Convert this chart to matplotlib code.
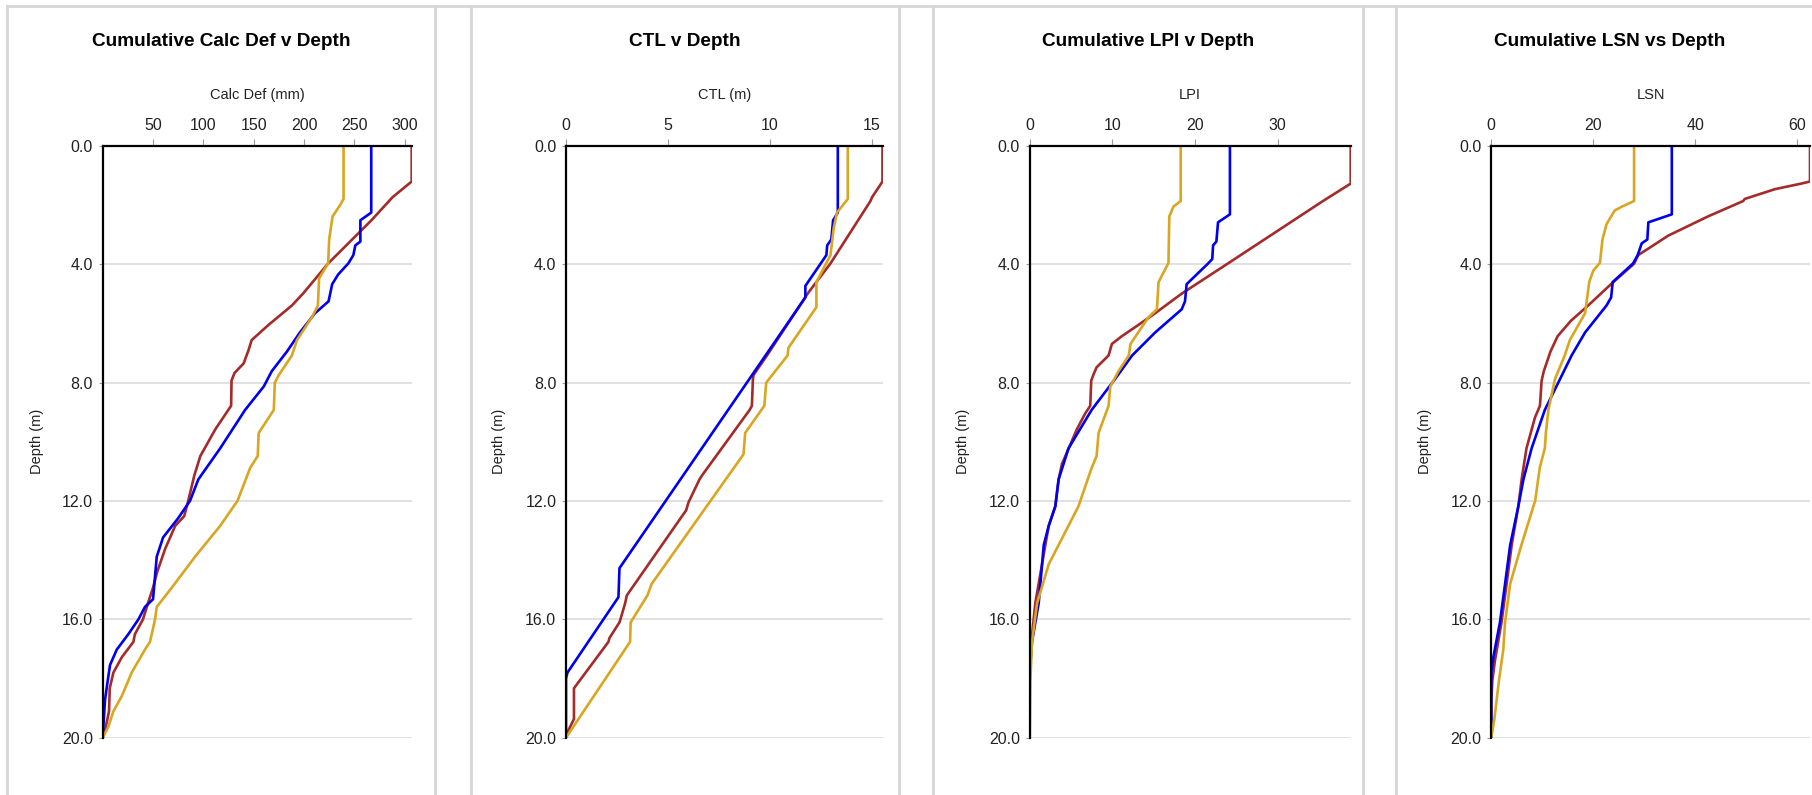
import matplotlib
matplotlib.use("Agg")
import matplotlib.pyplot as plt
from matplotlib.lines import Line2D

plt.rcParams['font.family'] = ['Liberation Sans', 'DejaVu Sans']

# ---------------- data ----------------
# Panel 1: Cumulative Calc Def (mm) v Depth (m)
calc_red_depth = [0, 1.2, 1.73, 2.51, 3.97, 4.99, 5.39, 6.04, 6.56, 6.89, 7.35, 7.67, 7.93, 8.78, 9.57, 10.48,
                  11.14, 11.99, 12.51, 12.84, 13.62, 14.41, 14.93, 15.45, 16.0, 16.5, 16.76, 17.28, 17.8, 18.33,
                  19.1, 19.76, 20.0]
calc_red_val = [307, 307, 288, 267, 224, 199, 188, 165, 148, 145, 140, 131, 128, 127.6, 112, 97,
                91, 85, 81, 72, 62, 54, 50, 45, 40, 32, 30.5, 19, 10.6, 7,
                6.3, 2.3, 0]
calc_blue_depth = [0, 2.25, 2.51, 3.23, 3.36, 3.69, 3.97, 4.34, 4.67, 5.25, 5.65, 6.3, 6.95, 7.61, 8.13, 8.92,
                   10.22, 11.27, 11.99, 12.58, 13.23, 13.88, 14.54, 15.32, 15.58, 16.0, 16.5, 17.02, 17.54,
                   18.07, 18.72, 20.0]
calc_blue_val = [266.8, 266.8, 256, 256, 251, 249, 244, 234, 228, 224.4, 211, 196, 183, 168, 160, 141.5,
                 116.7, 95, 86.8, 75, 60, 53.7, 52, 50, 42, 35.5, 25.5, 14, 7.3,
                 5, 2.3, 0]
calc_gold_depth = [0, 1.79, 1.99, 2.38, 3.16, 3.97, 4.47, 5.39, 5.78, 6.56, 7.08, 7.74, 8.0, 8.92, 9.18, 9.7,
                   10.48, 10.88, 11.99, 12.84, 13.88, 14.93, 15.58, 16.0, 16.76, 17.02, 17.8, 18.59, 19.11,
                   19.63, 20.0]
calc_gold_val = [239.3, 239.3, 236, 228.4, 225, 224, 215, 213.8, 208, 193, 188, 175, 171, 170, 165, 155,
                 154, 146.5, 134, 116.7, 91.8, 68.6, 53.7, 52, 47, 42, 28.8, 19, 10.6,
                 5.6, 0]

# Panel 2: CTL (m) v Depth (m)
ctl_red_depth = [0, 1.2, 1.73, 1.86, 3.97, 4.99, 7.08, 7.74, 7.87, 8.78, 8.92, 11.14, 11.27, 12.05, 12.31,
                 15.19, 15.45, 15.97, 16.1, 16.63, 16.76, 18.33, 19.37, 19.76, 20.0]
ctl_red_val = [15.51, 15.51, 15.0, 14.92, 12.96, 11.84, 9.85, 9.19, 9.16, 9.11, 9.0, 6.66, 6.54, 6.0, 5.89,
               2.98, 2.9, 2.68, 2.62, 2.13, 2.08, 0.39, 0.39, 0.11, 0]
ctl_blue_depth = [0, 2.25, 2.51, 3.16, 3.36, 3.69, 4.73, 5.12, 5.25, 14.27, 15.25, 17.8, 18.0, 20.0]
ctl_blue_val = [13.32, 13.32, 13.09, 13.0, 12.8, 12.76, 11.73, 11.73, 11.6, 2.62, 2.57, 0.07, 0, 0]
ctl_gold_depth = [0, 1.79, 2.25, 2.77, 3.69, 4.6, 5.45, 6.82, 7.08, 8.0, 8.78, 9.7, 10.42, 14.8, 15.19,
                  16.1, 16.76, 20.0]
ctl_gold_val = [13.81, 13.81, 13.28, 13.12, 12.96, 12.27, 12.27, 10.9, 10.86, 9.81, 9.72, 8.78, 8.7, 4.2, 3.99,
                3.17, 3.14, 0]

# Panel 3: Cumulative LPI v Depth (m)
lpi_red_depth = [0, 1.27, 1.86, 3.97, 4.99, 5.65, 6.04, 6.43, 6.69, 7.08, 7.48, 7.74, 7.93, 8.78, 9.05, 9.57,
                 10.75, 11.27, 12.18, 12.84, 14.14, 15.45, 16.76, 18.07, 20.0]
lpi_red_val = [38.86, 38.86, 35.5, 24.0, 18.4, 15.2, 13.2, 11.15, 9.95, 9.55, 8.1, 7.7, 7.45, 7.33, 6.7, 5.72,
               3.9, 3.5, 3.1, 2.3, 1.49, 0.68, 0.2, 0, 0]
lpi_blue_depth = [0, 2.31, 2.58, 3.23, 3.36, 3.82, 3.97, 4.67, 5.25, 5.52, 6.3, 7.08, 7.87, 8.92, 10.22,
                  11.27, 12.18, 12.84, 13.49, 15.45, 16.76, 17.8, 20.0]
lpi_blue_val = [24.24, 24.24, 22.8, 22.6, 22.2, 22.1, 21.6, 19.0, 18.8, 18.4, 15.2, 12.4, 10.35, 7.5, 4.7,
                3.5, 3.1, 2.3, 1.7, 1.09, 0.28, 0, 0]
lpi_gold_depth = [0, 1.86, 2.05, 2.38, 3.95, 4.6, 5.52, 5.78, 6.69, 7.08, 7.61, 8.13, 8.78, 9.7, 10.48,
                  10.88, 12.18, 14.14, 15.45, 16.76, 18.07, 20.0]
lpi_gold_val = [18.28, 18.28, 17.4, 16.9, 16.8, 15.6, 15.4, 14.4, 12.2, 12.0, 10.75, 9.75, 9.55, 8.34, 8.1,
                7.5, 5.9, 2.3, 0.9, 0.28, 0.08, 0]

# Panel 4: Cumulative LSN vs Depth (m)
lsn_red_depth = [0, 1.2, 1.27, 1.46, 1.79, 1.86, 2.38, 3.03, 3.69, 3.98, 4.65, 5.39, 5.91, 6.43, 6.95, 7.61,
                 7.93, 8.78, 9.18, 10.22, 11.27, 12.18, 13.49, 14.8, 16.1, 17.41, 18.07, 18.72, 20.0]
lsn_red_val = [62.5, 62.5, 60.8, 55.6, 49.7, 49.4, 42.5, 34.7, 28.8, 28.0, 23.6, 19.0, 15.6, 13.0, 11.6, 10.3,
               9.87, 9.54, 8.56, 6.9, 5.95, 5.3, 4.0, 3.0, 2.0, 0.7, 0.2, 0, 0]
lsn_blue_depth = [0, 2.31, 2.58, 3.16, 3.29, 3.69, 3.97, 4.6, 5.12, 5.39, 6.3, 7.08, 7.87, 8.92, 10.22,
                  11.27, 12.18, 13.49, 14.8, 16.1, 17.28, 17.8, 20.0]
lsn_blue_val = [35.4, 35.4, 30.8, 30.6, 29.5, 28.7, 27.8, 23.8, 23.5, 22.6, 18.4, 15.75, 13.5, 10.5, 7.9,
                6.3, 5.3, 3.7, 2.7, 1.7, 0.4, 0, 0]
lsn_gold_depth = [0, 1.86, 2.05, 2.18, 2.64, 3.16, 3.95, 4.21, 4.6, 5.25, 5.65, 6.56, 7.08, 7.87, 8.92, 9.7,
                  10.22, 10.88, 11.99, 13.49, 14.8, 16.1, 17.02, 18.07, 19.37, 20.0]
lsn_gold_val = [28.0, 28.0, 25.6, 24.2, 22.6, 21.8, 21.3, 20.0, 19.2, 18.7, 18.4, 15.4, 14.4, 12.5, 11.2, 10.7,
                10.5, 9.5, 8.6, 5.9, 3.7, 2.7, 2.35, 1.5, 0.6, 0]

titles = ["Cumulative Calc Def v Depth", "CTL v Depth", "Cumulative LPI v Depth", "Cumulative LSN vs Depth"]
xlabels = ["Calc Def (mm)", "CTL (m)", "LPI", "LSN"]
xticks = [[50, 100, 150, 200, 250, 300], [0, 5, 10, 15], [0, 10, 20, 30], [0, 20, 40, 60]]
xmaxes = [307.3, 15.52, 38.86, 62.5]
yticks = [0, 4, 8, 12, 16, 20]
ylabel = "Depth (m)"

series = [
    [(calc_red_depth, calc_red_val), (calc_blue_depth, calc_blue_val), (calc_gold_depth, calc_gold_val)],
    [(ctl_red_depth, ctl_red_val), (ctl_blue_depth, ctl_blue_val), (ctl_gold_depth, ctl_gold_val)],
    [(lpi_red_depth, lpi_red_val), (lpi_blue_depth, lpi_blue_val), (lpi_gold_depth, lpi_gold_val)],
    [(lsn_red_depth, lsn_red_val), (lsn_blue_depth, lsn_blue_val), (lsn_gold_depth, lsn_gold_val)],
]
colors = ["#A52A2A", "#0000F0", "#DAA520"]

# ---------------- layout (pixels) ----------------
W, H = 1812, 795
fig = plt.figure(figsize=(W / 100, H / 100), dpi=100)
fig.patch.set_facecolor("white")

def fx(px):
    return px / W

def fy(py):
    return 1 - py / H

axes_px = [(102.7, 412.0), (566.0, 882.7), (1029.7, 1350.7), (1491.3, 1810.0)]
ax_top, ax_bot = 146.0, 737.7
title_x = [221, 685, 1148, 1610]
ylabel_x = [37, 499, 963, 1425]

# panel frames
border_col = "#d6d6d6"
fig.add_artist(Line2D([fx(7), fx(W)], [fy(6), fy(6)], color=border_col, lw=2, transform=fig.transFigure))
for xb in [7, 435, 471, 899, 933, 1363, 1396]:
    fig.add_artist(Line2D([fx(xb), fx(xb)], [fy(6), fy(H)], color=border_col, lw=2, transform=fig.transFigure))

draw_order = [0, 2, 1]
for i in range(4):
    l, r = axes_px[i]
    ax = fig.add_axes([fx(l), fy(ax_bot), fx(r - l), (ax_bot - ax_top) / H])
    for j in draw_order:
        d, v = series[i][j]
        ax.plot(v, d, color=colors[j], lw=1.9, solid_joinstyle="round", zorder=3 + j)
    ax.set_xlim(0, xmaxes[i])
    ax.set_ylim(20, 0)
    ax.xaxis.tick_top()
    ax.set_xticks(xticks[i])
    ax.set_xticklabels([str(t) for t in xticks[i]])
    ax.set_yticks(yticks)
    ax.set_yticklabels([f"{t:.1f}" for t in yticks])
    ax.tick_params(axis="x", which="both", length=5, width=0.8, color="#999999", pad=4,
                   labelsize=11.5, labelcolor="#222222", top=True, bottom=False)
    ax.tick_params(axis="y", which="both", length=3, width=0.8, color="#999999", pad=4,
                   labelsize=11.5, labelcolor="#222222")
    for s in ["right", "bottom"]:
        ax.spines[s].set_visible(False)
    for s in ["left", "top"]:
        ax.spines[s].set_color("black")
        ax.spines[s].set_linewidth(1.6)
        ax.spines[s].set_zorder(10)
    ax.yaxis.grid(True, color="#dedede", lw=1.3)
    ax.set_axisbelow(True)
    ax.patch.set_alpha(0)

    fig.text(fx(title_x[i]), fy(41), titles[i], ha="center", va="center",
             fontsize=13.7, fontweight="bold", color="black")
    fig.text(fx((l + r) / 2), fy(95), xlabels[i], ha="center", va="center",
             fontsize=10.5, color="#222222")
    fig.text(fx(ylabel_x[i]), fy((ax_top + ax_bot) / 2), ylabel, ha="center", va="center",
             rotation=90, fontsize=10.5, color="#222222")

fig.savefig("out.png", dpi=100, facecolor="white")
